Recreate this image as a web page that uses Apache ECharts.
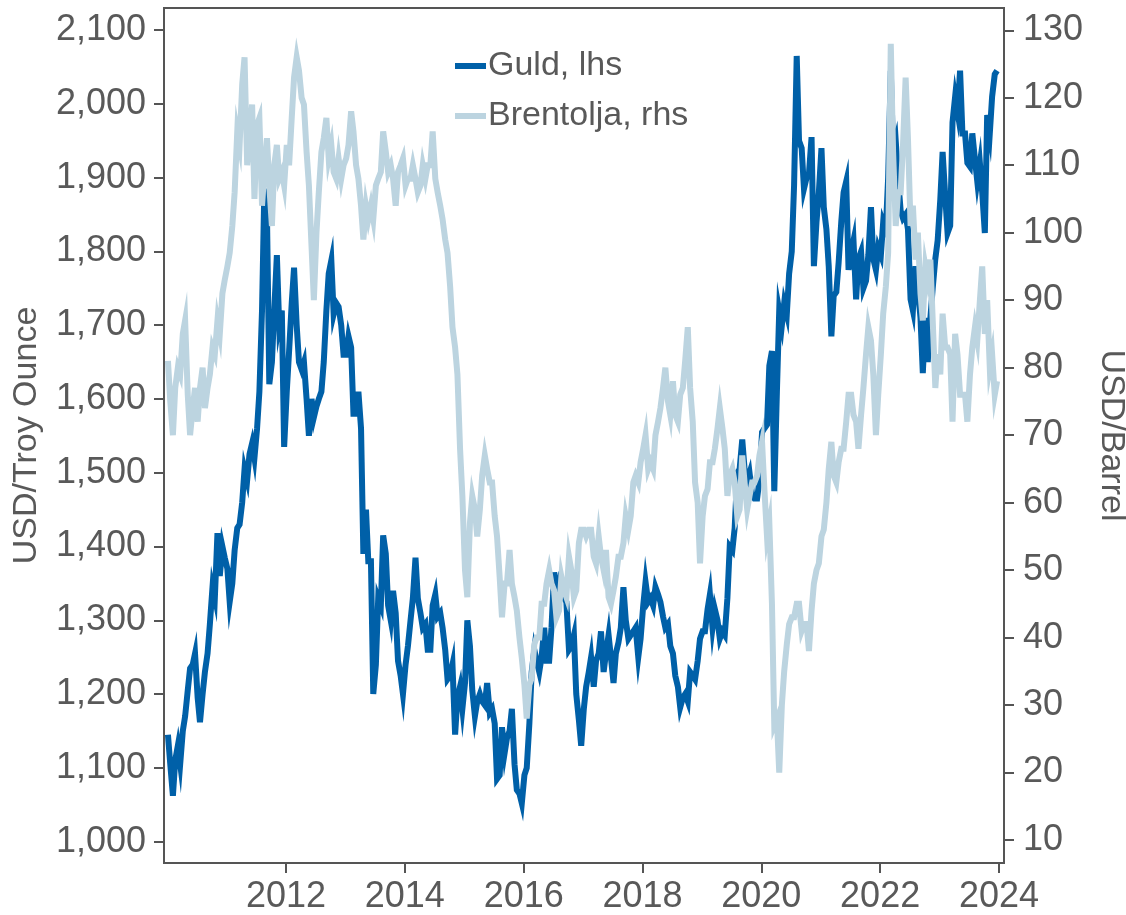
<!DOCTYPE html>
<html>
<head>
<meta charset="utf-8">
<script src="https://cdn.jsdelivr.net/npm/echarts@6.0.0/dist/echarts.min.js"></script>
<style>
html,body{margin:0;padding:0;background:#fff;}
#chart{width:1126px;height:915px;}
</style>
</head>
<body>
<div id="chart"></div>
<script>
// Semi-monthly readings (two per month, Jan..Dec) per year
const years = [2010,2011,2012,2013,2014,2015,2016,2017,2018,2019,2020,2021,2022,2023];

const gold2010 = [1145,1105,1062,1110,1130,1105,1150,1170,1205,1235,1240,1255,1195,1162,1200,1230,1255,1295,1345,1330,1418,1360,1400,1385];
const gold2011 = [1370,1325,1350,1395,1425,1430,1460,1505,1490,1525,1540,1520,1560,1610,1720,1885,1850,1620,1650,1720,1795,1700,1720,1535];
const gold2012 = [1610,1665,1730,1778,1700,1650,1640,1650,1600,1550,1600,1575,1590,1600,1610,1650,1720,1770,1788,1715,1730,1725,1700,1660];
const gold2013 = [1660,1685,1670,1580,1580,1610,1560,1390,1450,1380,1380,1200,1240,1330,1320,1415,1390,1320,1300,1340,1310,1245,1225,1200];
const gold2014 = [1240,1265,1300,1330,1385,1330,1310,1290,1295,1260,1260,1320,1335,1305,1310,1290,1260,1220,1225,1240,1145,1195,1210,1180];
const gold2015 = [1215,1300,1265,1205,1170,1190,1200,1190,1185,1215,1175,1180,1160,1085,1090,1155,1120,1140,1150,1180,1105,1070,1065,1052];
const gold2016 = [1090,1100,1160,1230,1260,1245,1230,1250,1290,1245,1245,1290,1365,1330,1350,1340,1330,1325,1260,1265,1280,1200,1165,1130];
const gold2017 = [1180,1210,1230,1250,1210,1245,1255,1285,1230,1255,1280,1250,1215,1255,1270,1290,1345,1300,1275,1280,1285,1290,1250,1275];
const gold2018 = [1320,1352,1325,1330,1320,1345,1335,1325,1305,1290,1295,1265,1255,1225,1210,1182,1195,1200,1190,1230,1225,1220,1245,1275];
const gold2019 = [1285,1285,1315,1335,1290,1315,1300,1275,1285,1280,1330,1400,1395,1425,1500,1505,1545,1505,1490,1500,1470,1465,1465,1490];
const gold2020 = [1555,1560,1565,1645,1665,1475,1610,1720,1700,1730,1715,1770,1800,1890,2065,1950,1940,1885,1900,1905,1955,1780,1840,1880];
const gold2021 = [1940,1860,1830,1780,1685,1740,1745,1785,1840,1880,1895,1775,1800,1815,1735,1790,1800,1750,1760,1795,1860,1790,1775,1805];
const gold2022 = [1795,1840,1830,1900,2045,1935,1950,1900,1855,1845,1850,1830,1735,1720,1780,1750,1710,1635,1710,1650,1710,1750,1790,1815];
const gold2023 = [1870,1935,1875,1825,1835,1975,2010,1990,2045,1960,1960,1920,1915,1960,1925,1895,1920,1880,1825,1985,1960,2010,2040,2045];

const brent2010 = [81,75,70,77,80,79,85,87,76,70,74,77,72,77,80,74,77,79,83,82,87,85,91,93];
const brent2011 = [95,97,101,106,115,113,122,126,110,114,119,105,116,117,104,109,114,107,101,110,113,108,109,107];
const brent2012 = [113,110,117,123,126,124,120,119,112,107,98,90,100,106,112,114,117,111,113,109,108,111,108,110];
const brent2013 = [111,113,118,115,110,108,104,99,104,102,104,102,107,108,109,115,112,109,110,108,104,109,110,111];
const brent2014 = [107,108,108,110,108,106,107,110,108,110,110,115,108,106,104,102,99,97,92,86,83,79,68,61];
const brent2015 = [50,46,57,61,59,55,59,64,67,65,63,63,58,55,49,43,48,48,53,48,46,44,40,37];
const brent2016 = [33,28,33,34,39,40,40,45,45,48,50,48,47,43,44,49,47,46,52,50,46,47,54,56];
const brent2017 = [56,55,56,56,52,51,55,52,50,53,46,45,47,49,52,52,54,58,56,58,63,64,63,66];
const brent2018 = [68,70,65,66,65,70,72,74,77,80,75,73,78,73,72,76,77,81,86,77,72,63,60,51];
const brent2019 = [58,61,62,66,66,68,71,74,71,68,61,64,65,63,58,59,67,63,59,61,63,63,64,67];
const brent2020 = [69,62,55,57,45,27,28,20,30,35,39,42,43,43,45,45,41,42,42,38,44,48,50,51];
const brent2021 = [55,56,60,65,69,64,63,66,68,68,72,76,76,73,72,68,73,77,82,86,84,79,70,76];
const brent2022 = [82,88,92,97,128,112,101,106,106,113,123,114,101,104,96,100,91,87,95,93,96,87,77,82];
const brent2023 = [79,88,83,83,82,72,85,82,76,76,76,72,79,83,86,84,90,95,85,90,80,82,76,78];

const goldYears = [gold2010,gold2011,gold2012,gold2013,gold2014,gold2015,gold2016,gold2017,gold2018,gold2019,gold2020,gold2021,gold2022,gold2023];
const brentYears = [brent2010,brent2011,brent2012,brent2013,brent2014,brent2015,brent2016,brent2017,brent2018,brent2019,brent2020,brent2021,brent2022,brent2023];

const xTicks = [2012,2014,2016,2018,2020,2022,2024];
const goldTicks = [1000,1100,1200,1300,1400,1500,1600,1700,1800,1900,2000,2100];
const brentTicks = [10,20,30,40,50,60,70,80,90,100,110,120,130];

function build(arr){
  const out = [];
  years.forEach((y, yi) => {
    arr[yi].forEach((v, i) => {
      const m = Math.floor(i/2);
      const frac = (i % 2) ? 0.62 : 0.15;
      out.push([y + (m + frac)/12, v]);
    });
  });
  return out;
}
const goldData = build(goldYears);
const brentData = build(brentYears);

const axisColor = '#555555';
const textColor = '#595959';
const font = 'Liberation Sans, Arial, sans-serif';

const chart = echarts.init(document.getElementById('chart'), null, {renderer:'canvas'});
chart.setOption({
  backgroundColor:'#ffffff',
  animation:false,
  grid:{left:164,right:122,top:8,bottom:52,show:true,borderColor:axisColor,borderWidth:2,containLabel:false,outerBoundsMode:'none'},
  legend:{
    orient:'vertical', left:450, top:40, itemGap:8,
    itemWidth:31, itemHeight:6, icon:'rect',
    textStyle:{fontSize:34,color:textColor,fontFamily:font,lineHeight:42,padding:[0,0,0,-3]},
    data:['Guld, lhs','Brentolja, rhs']
  },
  xAxis:{
    type:'value', min:2009.946, max:2024.085,
    splitLine:{show:false},
    axisLine:{show:true,lineStyle:{color:axisColor,width:2}},
    axisTick:{show:true,length:10,lineStyle:{color:axisColor,width:2},customValues:xTicks},
    axisLabel:{customValues:xTicks,fontSize:36,color:textColor,fontFamily:font,margin:16,formatter:v=>String(Math.round(v))}
  },
  yAxis:[{
    type:'value', position:'left', min:971, max:2130,
    name:'USD/Troy Ounce', nameLocation:'middle', nameGap:120, nameRotate:90,
    nameTextStyle:{fontSize:34,color:textColor,fontFamily:font},
    splitLine:{show:false},
    axisLine:{show:true,lineStyle:{color:axisColor,width:2}},
    axisTick:{show:true,length:10,lineStyle:{color:axisColor,width:2},customValues:goldTicks},
    axisLabel:{customValues:goldTicks,fontSize:36,color:textColor,fontFamily:font,margin:18,formatter:v=>v.toLocaleString('en-US')}
  },{
    type:'value', position:'right', min:6.6, max:133.3,
    name:'USD/Barrel', nameLocation:'middle', nameGap:88, nameRotate:-90,
    nameTextStyle:{fontSize:34,color:textColor,fontFamily:font},
    splitLine:{show:false},
    axisLine:{show:true,lineStyle:{color:axisColor,width:2}},
    axisTick:{show:true,length:10,lineStyle:{color:axisColor,width:2},customValues:brentTicks},
    axisLabel:{customValues:brentTicks,fontSize:36,color:textColor,fontFamily:font,margin:19,formatter:v=>String(v)}
  }],
  series:[{
    name:'Guld, lhs', type:'line', yAxisIndex:0, data:goldData,
    showSymbol:false, symbol:'none', color:'#0060a8',
    lineStyle:{width:6,color:'#0060a8',join:'miter'}
  },{
    name:'Brentolja, rhs', type:'line', yAxisIndex:1, data:brentData,
    showSymbol:false, symbol:'none', color:'#bcd4e0',
    lineStyle:{width:6,color:'#bcd4e0',join:'miter'}
  }]
});
</script>
</body>
</html>
